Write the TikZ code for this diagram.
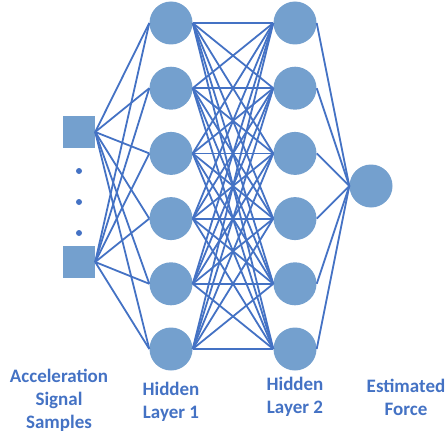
\documentclass[tikz,border=0pt]{standalone}
\usepackage{fontspec}
\setmainfont{Carlito}
\usepackage{xcolor}
\usepackage{tikz}
\usetikzlibrary{positioning}

\definecolor{unitfill}{RGB}{116,160,206}
\definecolor{wireblue}{RGB}{68,114,196}

\begin{document}
\begin{tikzpicture}[x=1pt, y=-1pt,
    neuron/.style={circle, fill=unitfill, minimum size=43pt, inner sep=0pt},
    sample/.style={rectangle, fill=unitfill, minimum size=32pt, inner sep=0pt},
    wire/.style={wireblue, line width=1.8pt},
    caption/.style={text=wireblue, align=center, font=\bfseries\fontsize{19}{23}\selectfont}]
    \useasboundingbox (0,0) rectangle (447,436);
    % input samples and the dots between them
    \node[sample] (S1) at (79,132) {};
    \node[sample] (S2) at (79,262) {};
    \foreach \y in {171,202,233}
        \fill[wireblue] (79,\y) circle (3);
    % two hidden layers and the output unit
    \foreach \i in {1,...,6} {
        \node[neuron] (A\i) at (171,{23+65.2*(\i-1)}) {};
        \node[neuron] (B\i) at (295,{23+65.2*(\i-1)}) {};
    }
    \node[neuron] (F) at (371,186) {};
    % weights
    \foreach \i in {1,...,6} {
        \foreach \s in {1,2}
            \draw[wire] (S\s.east) -- (A\i.west);
        \foreach \j in {1,...,6}
            \draw[wire] (A\i.east) -- (B\j.west);
        \draw[wire] (B\i.east) -- (F.west);
    }
    % layer names
    \node[caption] (Tin) at (59,400) {Acceleration\\Signal\\Samples};
    \node[caption] (Th1) at (171,402) {Hidden\\Layer 1};
    \node[caption] (Th2) at (295,397) {Hidden\\Layer 2};
    \node[caption] (Tout) at (406,397) {Estimated\\Force};
\end{tikzpicture}
\end{document}
